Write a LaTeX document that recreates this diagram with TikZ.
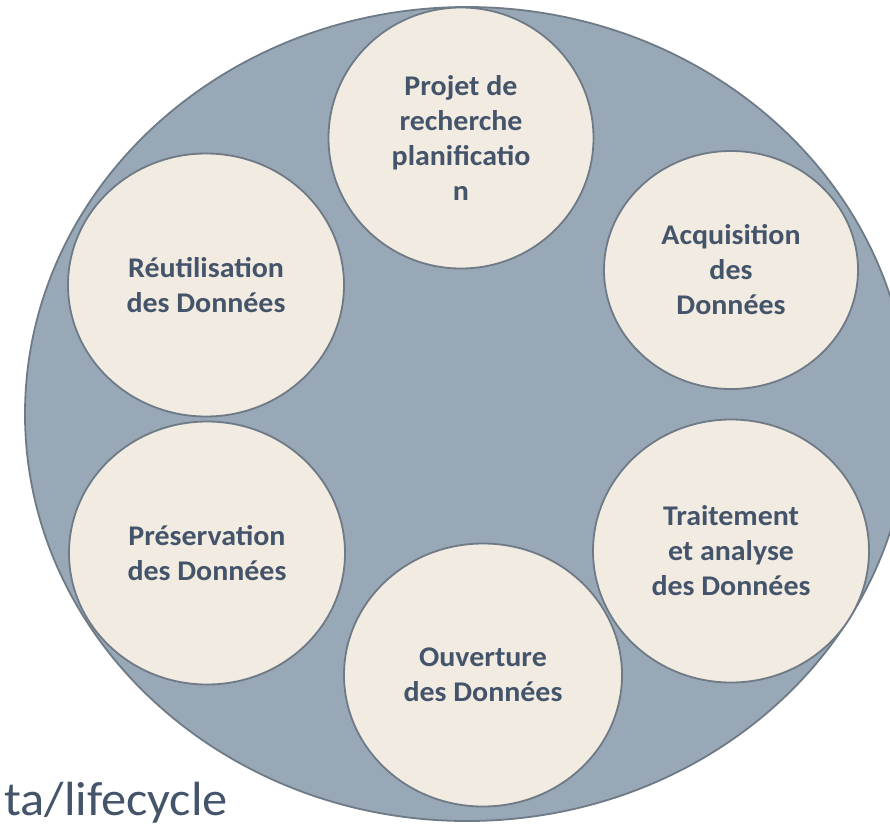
\documentclass[tikz,border=0pt]{standalone}
\usepackage{fontspec}
\setmainfont{Carlito}[FakeStretch=1.05]
\usetikzlibrary{shapes.geometric}
\definecolor{ringfill}{HTML}{98A8B6}
\definecolor{ringline}{HTML}{6E7A86}
\definecolor{stagefill}{HTML}{F2EBE1}
\definecolor{stagetext}{HTML}{44546A}

\begin{document}
\begin{tikzpicture}[x=1pt,y=-1pt,
  stage/.style={ellipse,draw=ringline,line width=1.8pt,fill=stagefill,inner sep=0pt,
    minimum width=276pt,minimum height=263pt,align=center,text=stagetext,
    font=\fontsize{28.5}{35}\selectfont\bfseries}]
\useasboundingbox (0,0) rectangle (890,823);
\clip (0,0) rectangle (890,823);
\draw[fill=ringfill,draw=ringline,line width=1.8pt] (467,414) ellipse [x radius=442, y radius=407]; % big ring
% the six stages
\node[stage,minimum width=265pt,minimum height=261pt] (projet) at (461,138) {Projet de\\recherche\\planificatio\\n};
\node[stage,minimum width=254pt,minimum height=238pt] (acquisition) at (731,270) {Acquisition\\des\\Données};
\node[stage] (traitement) at (731,551) {Traitement\\et analyse\\des Données};
\node[stage,minimum width=278pt] (ouverture) at (483,675) {Ouverture\\des Données};
\node[stage] (preservation) at (207,553) {Préservation\\des Données};
\node[stage] (reutilisation) at (206,285) {Réutilisation\\des Données};
\node[anchor=base west,inner sep=0pt,text=stagetext,font=\fontsize{48}{58}\selectfont] (lien) at (4,815) {ta/lifecycle};
\end{tikzpicture}
\end{document}
